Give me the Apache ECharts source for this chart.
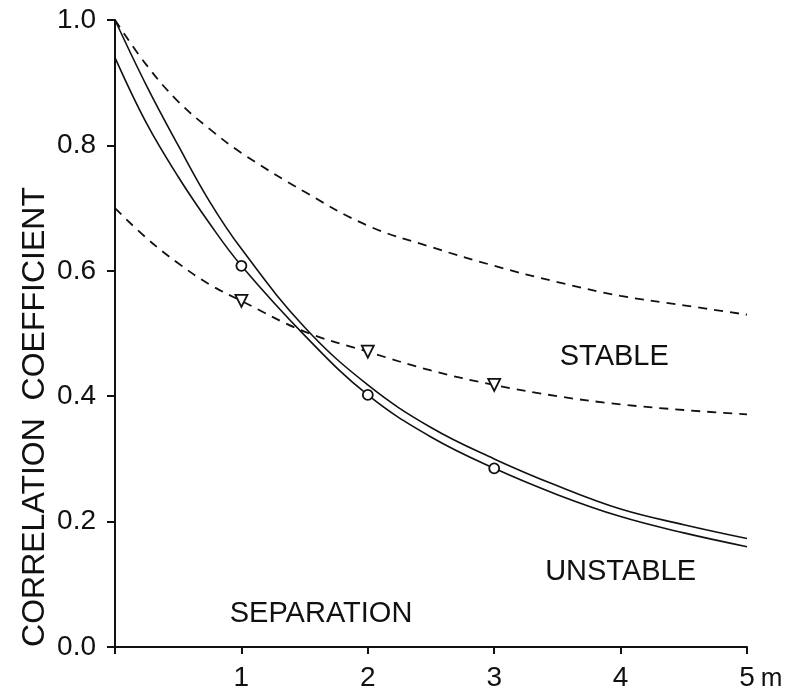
<!DOCTYPE html>
<html>
<head>
<meta charset="utf-8">
<script src="https://cdn.jsdelivr.net/npm/echarts@6/dist/echarts.min.js"></script>
<style>
html,body{margin:0;padding:0;background:#fff;}
#chart{width:789px;height:692px;}
</style>
</head>
<body>
<div id="chart"></div>
<script>
// ---- data ----
var xs = [0, 0.25, 0.5, 0.75, 1, 1.5, 2, 2.5, 3, 3.5, 4, 4.5, 5];
var solidUpper = [1.0, 0.895, 0.80, 0.71, 0.635, 0.51, 0.418, 0.35, 0.30, 0.257, 0.22, 0.195, 0.173];
var solidLower = [0.94, 0.835, 0.75, 0.675, 0.608, 0.497, 0.402, 0.335, 0.285, 0.243, 0.208, 0.182, 0.160];
var dashedUpper = [1.0, 0.928, 0.87, 0.826, 0.788, 0.726, 0.672, 0.638, 0.608, 0.582, 0.56, 0.545, 0.53];
var dashedLower = [0.70, 0.652, 0.612, 0.578, 0.552, 0.503, 0.471, 0.441, 0.418, 0.400, 0.387, 0.378, 0.371];
var circleX = [1, 2, 3];
var circleY = [0.608, 0.402, 0.285];
var triangleX = [1, 2, 3];
var triangleY = [0.552, 0.471, 0.418];
var regionNames = ['STABLE', 'UNSTABLE', 'SEPARATION'];
var regionX = [3.95, 4.0, 1.63];
var regionY = [0.463, 0.120, 0.052];
var yTitle = 'CORRELATION  COEFFICIENT';
var xUnit = 'm';

function pairs(x, y) { return x.map(function (v, i) { return [v, y[i]]; }); }

var FONT = 'Liberation Sans';
var INK = '#111';

var chart = echarts.init(document.getElementById('chart'), null, {renderer: 'canvas'});
var lineBase = {type: 'line', symbol: 'none', smooth: 0.4, silent: true, z: 2};
chart.setOption({
  animation: false,
  backgroundColor: '#fff',
  grid: {left: 115, right: 42, top: 20, bottom: 41, containLabel: false},
  xAxis: {
    type: 'value', min: 0, max: 5, interval: 1,
    name: xUnit, nameLocation: 'end', nameGap: 11,
    nameTextStyle: {fontFamily: FONT, fontSize: 26, color: INK, verticalAlign: 'top', padding: [19, 0, 0, 0]},
    axisLine: {show: true, onZero: false, lineStyle: {color: INK, width: 2}},
    axisTick: {show: true, inside: false, length: 7, lineStyle: {color: INK, width: 2}},
    axisLabel: {fontFamily: FONT, fontSize: 28, color: INK, margin: 17,
      formatter: function (v) { return v === 0 ? '' : String(v); }},
    splitLine: {show: false}
  },
  yAxis: {
    type: 'value', min: 0, max: 1, interval: 0.2,
    axisLine: {show: true, onZero: false, lineStyle: {color: INK, width: 2}},
    axisTick: {show: true, inside: false, length: 8, lineStyle: {color: INK, width: 2}},
    axisLabel: {fontFamily: FONT, fontSize: 28, color: INK, margin: 19,
      formatter: function (v) { return v.toFixed(1); }},
    splitLine: {show: false}
  },
  graphic: [{
    type: 'text', x: 35, y: 417, rotation: Math.PI / 2,
    style: {text: yTitle, font: '32px "' + FONT + '"', fill: INK, textAlign: 'center', textVerticalAlign: 'middle'}
  }],
  series: [
    Object.assign({}, lineBase, {data: pairs(xs, solidUpper), lineStyle: {color: INK, width: 1.6}}),
    Object.assign({}, lineBase, {data: pairs(xs, solidLower), lineStyle: {color: INK, width: 1.6}}),
    Object.assign({}, lineBase, {data: pairs(xs, dashedUpper), lineStyle: {color: INK, width: 1.8, type: [9, 7]}}),
    Object.assign({}, lineBase, {data: pairs(xs, dashedLower), lineStyle: {color: INK, width: 1.8, type: [9, 7]}}),
    {type: 'scatter', data: pairs(circleX, circleY), symbol: 'circle', symbolSize: 10, z: 5, silent: true,
      itemStyle: {color: '#fff', borderColor: INK, borderWidth: 1.8, opacity: 1}},
    {type: 'scatter', data: pairs(triangleX, triangleY), symbol: 'triangle', symbolRotate: 180, symbolSize: 12, z: 5, silent: true,
      itemStyle: {color: '#fff', borderColor: INK, borderWidth: 1.8, opacity: 1}},
    {type: 'scatter', symbolSize: 1, itemStyle: {color: '#fff'}, z: 6, silent: true,
      data: regionNames.map(function (n, i) { return {name: n, value: [regionX[i], regionY[i]]}; }),
      label: {show: true, position: 'inside', formatter: '{b}', fontFamily: FONT, fontSize: 29, color: INK,
        textBorderWidth: 0, opacity: 1}}
  ]
});
</script>
</body>
</html>
